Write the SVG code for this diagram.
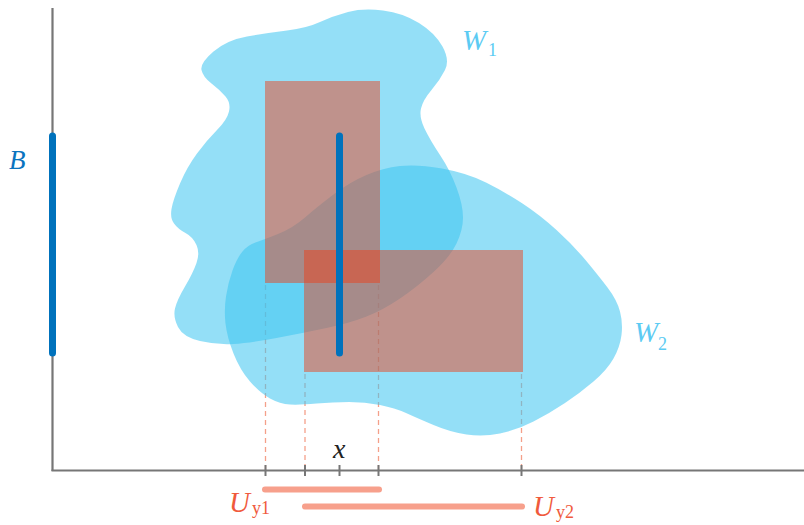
<svg xmlns="http://www.w3.org/2000/svg" width="804" height="525" viewBox="0 0 804 525">
<style>
.blob{fill:#3dc5f1;fill-opacity:0.55}
.rect{fill:#ef3e16;fill-opacity:0.48}
.axis{stroke:#767676;stroke-width:2.2;fill:none}
.tick{stroke:#767676;stroke-width:2}
.dash{stroke:#f4a08a;stroke-width:1.3;stroke-dasharray:5 4;fill:none}
.bar{stroke:#0072bc;stroke-width:7;stroke-linecap:round}
.ubar{stroke:#f7a08c;stroke-width:6;stroke-linecap:round}
text{font-family:"Liberation Serif","DejaVu Serif",serif}
.it{font-style:italic}
</style>
<rect width="804" height="525" fill="#ffffff"/>
<g id="connectors">
<line class="dash" x1="265.5" y1="285" x2="265.5" y2="470"/>
<line class="dash" x1="305" y1="374" x2="305" y2="470"/>
<line class="dash" x1="378.5" y1="285" x2="378.5" y2="470"/>
<line class="dash" x1="521.5" y1="374" x2="521.5" y2="470"/>
</g>
<g id="W1">
<path class="blob" d="M201.5,70 Q200,63 213.5,51.5 Q227,40 247,36.5 Q267,33 287,30.5 Q307,28 320,22 Q333,16 348,12 Q363,8 383,10.5 Q403,13 419,23 Q435,33 442.5,46.5 Q450,60 445,70 Q440,80 431.5,90 Q423,100 421,108.5 Q419,117 424.5,128.5 Q430,140 440,155 Q450,170 456.5,187.5 Q463,205 463,217.5 Q463,230 456.5,243.5 Q450,257 433.5,272 Q417,287 400,298.5 Q383,310 366.5,316.5 Q350,323 326.5,328 Q303,333 276.5,338 Q250,343 233.5,344 Q217,345 200,341 Q183,337 178,327 Q173,317 175,308.5 Q177,300 185,286.5 Q193,273 196.5,263 Q200,253 196.5,245 Q193,237 185.5,233 Q178,229 174,223.5 Q170,218 171.5,209 Q173,200 180,183.5 Q187,167 197,153.5 Q207,140 217,130 Q227,120 229,111.5 Q231,103 225.5,96.5 Q220,90 211.5,83.5 Q203,77 201.5,70 Z"/>
</g>
<g id="W2">
<path class="blob" d="M255.5,242.5 Q263,240 278,234 Q293,228 305,217.5 Q317,207 333.5,194.5 Q350,182 366.5,175 Q383,168 400,166 Q417,164 442,168.5 Q467,173 486,182.5 Q505,192 522.5,203.5 Q540,215 556.5,230 Q573,245 585.5,260 Q598,275 607.5,287.5 Q617,300 620,311.5 Q623,323 621.5,335 Q620,347 613.5,358.5 Q607,370 593.5,381.5 Q580,393 565,403 Q550,413 533.5,421.5 Q517,430 500,433.5 Q483,437 466.5,434.5 Q450,432 433.5,425 Q417,418 406,413 Q395,408 380,405 Q365,402 349,402 Q333,402 316.5,403.5 Q300,405 290,404.5 Q280,404 270,398.5 Q260,393 250,381.5 Q240,370 233.5,353.5 Q227,337 225.5,323.5 Q224,310 226,296.5 Q228,283 232.5,270.5 Q237,258 242.5,251.5 Q248,245 255.5,242.5 Z"/>
</g>
<g id="Uy1-box"><rect class="rect" x="265" y="81" width="115" height="202"/></g>
<g id="Uy2-box"><rect class="rect" x="304" y="250" width="219" height="122"/></g>
<g id="axes">
<line class="axis" x1="52.5" y1="8" x2="52.5" y2="471"/>
<line class="axis" x1="51.5" y1="470.5" x2="804" y2="470.5"/>
<line class="tick" x1="265.5" y1="465" x2="265.5" y2="476"/>
<line class="tick" x1="305" y1="465" x2="305" y2="476"/>
<line class="tick" x1="339.5" y1="465" x2="339.5" y2="476"/>
<line class="tick" x1="378.5" y1="465" x2="378.5" y2="476"/>
<line class="tick" x1="521.5" y1="465" x2="521.5" y2="476"/>
</g>
<g id="B">
<line class="bar" x1="52.5" y1="136" x2="52.5" y2="353"/>
<text class="it" x="9" y="169" font-size="27" fill="#0b74bf">B</text>
</g>
<g id="Bx"><line class="bar" x1="339.5" y1="136" x2="339.5" y2="353"/></g>
<g id="W1-label"><text x="462" y="50" font-size="29" fill="#5ccbf3"><tspan class="it">W</tspan><tspan x="488" y="56" font-size="18">1</tspan></text></g>
<g id="W2-label"><text x="634" y="342" font-size="29" fill="#5ccbf3"><tspan class="it">W</tspan><tspan x="658" y="350" font-size="18">2</tspan></text></g>
<g id="x-label"><text class="it" x="333" y="458" font-size="28" fill="#222222">x</text></g>
<g id="Uy1">
<line class="ubar" x1="265" y1="489.5" x2="379" y2="489.5"/>
<text x="229" y="512" font-size="29" fill="#f05a3c"><tspan class="it">U</tspan><tspan x="252" y="514" font-size="18">y1</tspan></text>
</g>
<g id="Uy2">
<line class="ubar" x1="305" y1="506.5" x2="522" y2="506.5"/>
<text x="533" y="516" font-size="29" fill="#f05a3c"><tspan class="it">U</tspan><tspan x="556" y="518" font-size="18">y2</tspan></text>
</g>
</svg>
